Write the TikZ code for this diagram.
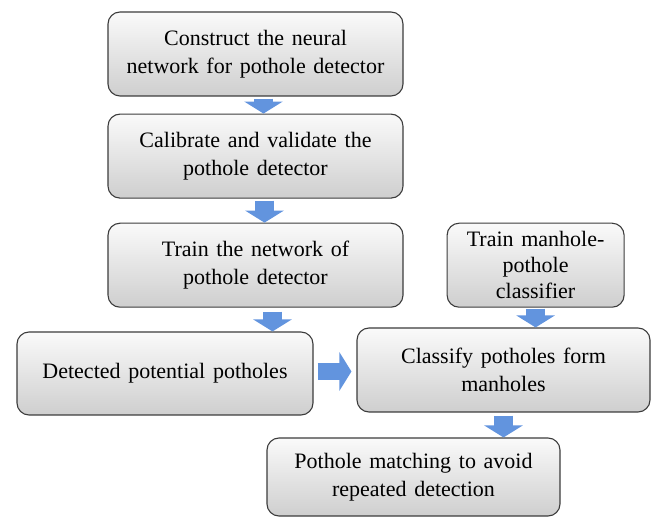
\documentclass[tikz,border=0pt]{standalone}
\usepackage{fontspec}
\setmainfont[WordSpace=1.4]{Liberation Serif}
\usetikzlibrary{positioning, arrows.meta}
\definecolor{arrowblue}{RGB}{98,148,222}
\definecolor{boxline}{RGB}{60,60,60}

\begin{document}
\begin{tikzpicture}[x=1pt, y=-1pt,
  box/.style={draw=boxline, line width=1.1pt, rectangle, rounded corners=12pt,
    top color=gray!4, bottom color=gray!38, align=center, inner sep=1pt,
    font=\fontsize{22}{28}\selectfont},
  blkarrow/.style={draw=arrowblue, line width=19pt,
    -{Triangle[width=38pt, length=12pt]}}]
\useasboundingbox (0,0) rectangle (656,518);
\node (construct) [box, minimum width=295pt, minimum height=84pt] at (255.5,54)
{Construct the neural\\network for pothole detector};
\node (calibrate) [below=17pt of construct, box, minimum width=295pt, minimum height=84pt]
{Calibrate and validate the\\pothole detector};
\node (train) [below=24pt of calibrate, box, minimum width=295pt, minimum height=84pt]
{Train the network of\\pothole detector};
\node (trainclf) [right=43pt of train, box, minimum width=177pt, minimum height=84pt,
  font=\fontsize{22}{26}\selectfont]
{Train manhole-\\pothole\\classifier};
\node (detected) [box, minimum width=296pt, minimum height=83pt] at (165,373.5)
{Detected potential potholes};
\node (classify) [box, minimum width=293pt, minimum height=84pt] at (503.5,370)
{Classify potholes form\\manholes};
\node (matching) [box, minimum width=293pt, minimum height=78pt] at (413.5,477)
{Pothole matching to avoid\\repeated detection};
\draw[blkarrow] ([xshift=8pt, yshift=-2pt]construct.south) -- ([xshift=8pt]calibrate.north);
\draw[blkarrow] ([xshift=9pt, yshift=-2pt]calibrate.south) -- ([xshift=9pt]train.north);
\draw[blkarrow] ([xshift=17pt, yshift=-4pt]train.south) -- ([xshift=17pt]train.south |- detected.north);
\draw[blkarrow] ([yshift=-1pt]trainclf.south) -- (trainclf.south |- classify.north);
\draw[blkarrow] ([yshift=-3pt]classify.south) -- (classify.south |- matching.north);
\draw[blkarrow, line width=17pt] ([xshift=4pt, yshift=2pt]detected.east) -- ([xshift=-5pt, yshift=2pt]detected.east -| classify.west);
\end{tikzpicture}
\end{document}
